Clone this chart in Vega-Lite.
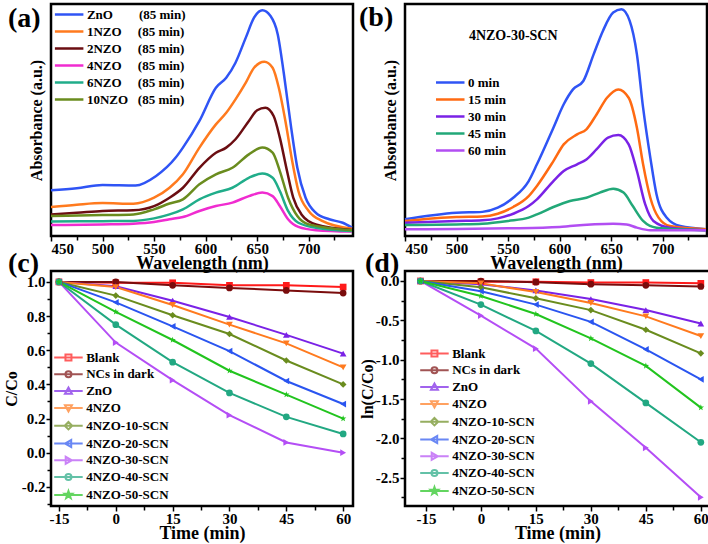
{
"$schema":"https://vega.github.io/schema/vega-lite/v6.json",
"padding":{"left":2,"top":1,"right":0,"bottom":0},
"config":{
 "font":"Liberation Serif",
 "view":{"stroke":"black","strokeWidth":2},
 "axis":{"labelFont":"Liberation Serif","labelFontSize":15,"labelFontWeight":"bold","labelColor":"#000","titleFont":"Liberation Serif","titleFontWeight":"bold","titleColor":"#000","tickColor":"#000","tickWidth":1.5,"tickSize":5,"domain":false,"grid":false,"labelPadding":0,"titlePadding":-2},
 "axisX":{"titleFontSize":18},
 "axisY":{"titleFontSize":16},
 "legend":{"labelFont":"Liberation Serif","labelFontSize":13,"labelFontWeight":"bold","labelColor":"#000","padding":0,"orient":"none","title":null,"symbolSize":100,"symbolStrokeWidth":2,"labelOffset":2,"rowPadding":3},
 "title":{"font":"Liberation Serif","fontSize":28,"fontWeight":"bold","color":"#000","anchor":"start","frame":"group","offset":0,"baseline":"alphabetic"}
},
"datasets":{
 "specA":[
  {"s":"ZnO","nm":450,"a":0.197},{"s":"ZnO","nm":475,"a":0.206},{"s":"ZnO","nm":500,"a":0.22},{"s":"ZnO","nm":532,"a":0.218},{"s":"ZnO","nm":552,"a":0.259},{"s":"ZnO","nm":571,"a":0.338},{"s":"ZnO","nm":578,"a":0.381},{"s":"ZnO","nm":594,"a":0.496},{"s":"ZnO","nm":610,"a":0.639},{"s":"ZnO","nm":620,"a":0.682},{"s":"ZnO","nm":629,"a":0.747},{"s":"ZnO","nm":639,"a":0.855},{"s":"ZnO","nm":647,"a":0.941},{"s":"ZnO","nm":655,"a":0.973},{"s":"ZnO","nm":663,"a":0.948},{"s":"ZnO","nm":670,"a":0.869},{"s":"ZnO","nm":676,"a":0.697},{"s":"ZnO","nm":683,"a":0.467},{"s":"ZnO","nm":689,"a":0.294},{"s":"ZnO","nm":697,"a":0.165},{"s":"ZnO","nm":707,"a":0.1},{"s":"ZnO","nm":720,"a":0.072},{"s":"ZnO","nm":733,"a":0.057},{"s":"ZnO","nm":742,"a":0.036},
  {"s":"1NZO","nm":450,"a":0.125},{"s":"1NZO","nm":475,"a":0.135},{"s":"1NZO","nm":500,"a":0.142},{"s":"1NZO","nm":530,"a":0.139},{"s":"1NZO","nm":550,"a":0.165},{"s":"1NZO","nm":565,"a":0.208},{"s":"1NZO","nm":578,"a":0.266},{"s":"1NZO","nm":594,"a":0.381},{"s":"1NZO","nm":610,"a":0.481},{"s":"1NZO","nm":620,"a":0.531},{"s":"1NZO","nm":629,"a":0.589},{"s":"1NZO","nm":639,"a":0.661},{"s":"1NZO","nm":647,"a":0.725},{"s":"1NZO","nm":657,"a":0.751},{"s":"1NZO","nm":665,"a":0.725},{"s":"1NZO","nm":671,"a":0.639},{"s":"1NZO","nm":678,"a":0.481},{"s":"1NZO","nm":684,"a":0.323},{"s":"1NZO","nm":690,"a":0.194},{"s":"1NZO","nm":700,"a":0.108},{"s":"1NZO","nm":713,"a":0.065},{"s":"1NZO","nm":742,"a":0.031},
  {"s":"2NZO","nm":450,"a":0.093},{"s":"2NZO","nm":475,"a":0.1},{"s":"2NZO","nm":500,"a":0.108},{"s":"2NZO","nm":530,"a":0.111},{"s":"2NZO","nm":550,"a":0.129},{"s":"2NZO","nm":565,"a":0.165},{"s":"2NZO","nm":578,"a":0.208},{"s":"2NZO","nm":594,"a":0.294},{"s":"2NZO","nm":610,"a":0.359},{"s":"2NZO","nm":620,"a":0.381},{"s":"2NZO","nm":629,"a":0.417},{"s":"2NZO","nm":642,"a":0.496},{"s":"2NZO","nm":650,"a":0.542},{"s":"2NZO","nm":658,"a":0.553},{"s":"2NZO","nm":666,"a":0.517},{"s":"2NZO","nm":672,"a":0.424},{"s":"2NZO","nm":679,"a":0.28},{"s":"2NZO","nm":685,"a":0.165},{"s":"2NZO","nm":693,"a":0.093},{"s":"2NZO","nm":707,"a":0.05},{"s":"2NZO","nm":742,"a":0.026},
  {"s":"4NZO","nm":450,"a":0.047},{"s":"4NZO","nm":500,"a":0.05},{"s":"4NZO","nm":530,"a":0.053},{"s":"4NZO","nm":550,"a":0.06},{"s":"4NZO","nm":565,"a":0.072},{"s":"4NZO","nm":578,"a":0.082},{"s":"4NZO","nm":594,"a":0.108},{"s":"4NZO","nm":610,"a":0.129},{"s":"4NZO","nm":626,"a":0.144},{"s":"4NZO","nm":642,"a":0.172},{"s":"4NZO","nm":655,"a":0.187},{"s":"4NZO","nm":665,"a":0.172},{"s":"4NZO","nm":672,"a":0.129},{"s":"4NZO","nm":680,"a":0.072},{"s":"4NZO","nm":690,"a":0.039},{"s":"4NZO","nm":707,"a":0.025},{"s":"4NZO","nm":742,"a":0.019},
  {"s":"6NZO","nm":450,"a":0.062},{"s":"6NZO","nm":500,"a":0.064},{"s":"6NZO","nm":530,"a":0.065},{"s":"6NZO","nm":550,"a":0.076},{"s":"6NZO","nm":565,"a":0.093},{"s":"6NZO","nm":578,"a":0.115},{"s":"6NZO","nm":594,"a":0.158},{"s":"6NZO","nm":610,"a":0.187},{"s":"6NZO","nm":626,"a":0.208},{"s":"6NZO","nm":642,"a":0.251},{"s":"6NZO","nm":655,"a":0.269},{"s":"6NZO","nm":665,"a":0.251},{"s":"6NZO","nm":672,"a":0.194},{"s":"6NZO","nm":680,"a":0.108},{"s":"6NZO","nm":690,"a":0.057},{"s":"6NZO","nm":707,"a":0.036},{"s":"6NZO","nm":742,"a":0.022},
  {"s":"10NZO","nm":450,"a":0.086},{"s":"10NZO","nm":500,"a":0.09},{"s":"10NZO","nm":530,"a":0.093},{"s":"10NZO","nm":550,"a":0.115},{"s":"10NZO","nm":565,"a":0.14},{"s":"10NZO","nm":578,"a":0.158},{"s":"10NZO","nm":594,"a":0.223},{"s":"10NZO","nm":610,"a":0.266},{"s":"10NZO","nm":626,"a":0.294},{"s":"10NZO","nm":642,"a":0.352},{"s":"10NZO","nm":655,"a":0.381},{"s":"10NZO","nm":665,"a":0.359},{"s":"10NZO","nm":672,"a":0.28},{"s":"10NZO","nm":680,"a":0.165},{"s":"10NZO","nm":689,"a":0.086},{"s":"10NZO","nm":700,"a":0.05},{"s":"10NZO","nm":742,"a":0.025}
 ],
 "specB":[
  {"s":"0 min","nm":450,"a":0.072},{"s":"0 min","nm":500,"a":0.1},{"s":"0 min","nm":525,"a":0.104},{"s":"0 min","nm":540,"a":0.122},{"s":"0 min","nm":555,"a":0.165},{"s":"0 min","nm":570,"a":0.237},{"s":"0 min","nm":578,"a":0.309},{"s":"0 min","nm":594,"a":0.467},{"s":"0 min","nm":604,"a":0.568},{"s":"0 min","nm":613,"a":0.632},{"s":"0 min","nm":623,"a":0.668},{"s":"0 min","nm":633,"a":0.783},{"s":"0 min","nm":642,"a":0.884},{"s":"0 min","nm":652,"a":0.963},{"s":"0 min","nm":660,"a":0.977},{"s":"0 min","nm":668,"a":0.927},{"s":"0 min","nm":675,"a":0.783},{"s":"0 min","nm":681,"a":0.553},{"s":"0 min","nm":688,"a":0.338},{"s":"0 min","nm":694,"a":0.18},{"s":"0 min","nm":704,"a":0.079},{"s":"0 min","nm":717,"a":0.043},{"s":"0 min","nm":742,"a":0.029},
  {"s":"15 min","nm":450,"a":0.065},{"s":"15 min","nm":500,"a":0.082},{"s":"15 min","nm":525,"a":0.084},{"s":"15 min","nm":540,"a":0.096},{"s":"15 min","nm":555,"a":0.125},{"s":"15 min","nm":570,"a":0.172},{"s":"15 min","nm":578,"a":0.216},{"s":"15 min","nm":594,"a":0.323},{"s":"15 min","nm":604,"a":0.395},{"s":"15 min","nm":617,"a":0.438},{"s":"15 min","nm":626,"a":0.46},{"s":"15 min","nm":636,"a":0.525},{"s":"15 min","nm":646,"a":0.596},{"s":"15 min","nm":657,"a":0.632},{"s":"15 min","nm":667,"a":0.596},{"s":"15 min","nm":675,"a":0.467},{"s":"15 min","nm":681,"a":0.309},{"s":"15 min","nm":688,"a":0.165},{"s":"15 min","nm":696,"a":0.079},{"s":"15 min","nm":707,"a":0.043},{"s":"15 min","nm":742,"a":0.029},
  {"s":"30 min","nm":450,"a":0.057},{"s":"30 min","nm":500,"a":0.065},{"s":"30 min","nm":525,"a":0.068},{"s":"30 min","nm":540,"a":0.076},{"s":"30 min","nm":555,"a":0.096},{"s":"30 min","nm":570,"a":0.129},{"s":"30 min","nm":578,"a":0.158},{"s":"30 min","nm":594,"a":0.237},{"s":"30 min","nm":604,"a":0.28},{"s":"30 min","nm":617,"a":0.309},{"s":"30 min","nm":626,"a":0.33},{"s":"30 min","nm":636,"a":0.374},{"s":"30 min","nm":647,"a":0.424},{"s":"30 min","nm":657,"a":0.435},{"s":"30 min","nm":667,"a":0.395},{"s":"30 min","nm":675,"a":0.28},{"s":"30 min","nm":683,"a":0.137},{"s":"30 min","nm":691,"a":0.065},{"s":"30 min","nm":707,"a":0.036},{"s":"30 min","nm":742,"a":0.025},
  {"s":"45 min","nm":450,"a":0.047},{"s":"45 min","nm":500,"a":0.05},{"s":"45 min","nm":525,"a":0.053},{"s":"45 min","nm":550,"a":0.065},{"s":"45 min","nm":570,"a":0.079},{"s":"45 min","nm":578,"a":0.093},{"s":"45 min","nm":594,"a":0.125},{"s":"45 min","nm":610,"a":0.151},{"s":"45 min","nm":626,"a":0.165},{"s":"45 min","nm":639,"a":0.187},{"s":"45 min","nm":652,"a":0.204},{"s":"45 min","nm":662,"a":0.187},{"s":"45 min","nm":671,"a":0.129},{"s":"45 min","nm":681,"a":0.065},{"s":"45 min","nm":694,"a":0.036},{"s":"45 min","nm":742,"a":0.025},
  {"s":"60 min","nm":450,"a":0.029},{"s":"60 min","nm":500,"a":0.03},{"s":"60 min","nm":550,"a":0.033},{"s":"60 min","nm":600,"a":0.039},{"s":"60 min","nm":610,"a":0.043},{"s":"60 min","nm":652,"a":0.053},{"s":"60 min","nm":665,"a":0.05},{"s":"60 min","nm":675,"a":0.036},{"s":"60 min","nm":688,"a":0.025},{"s":"60 min","nm":742,"a":0.025}
 ],
 "kinC":[
  {"s":"Blank","t":-15,"v":1.0},{"s":"Blank","t":0,"v":0.995},{"s":"Blank","t":15,"v":0.995},{"s":"Blank","t":30,"v":0.98},{"s":"Blank","t":45,"v":0.98},{"s":"Blank","t":60,"v":0.97},
  {"s":"NCs in dark","t":-15,"v":1.0},{"s":"NCs in dark","t":0,"v":1.0},{"s":"NCs in dark","t":15,"v":0.98},{"s":"NCs in dark","t":30,"v":0.965},{"s":"NCs in dark","t":45,"v":0.95},{"s":"NCs in dark","t":60,"v":0.935},
  {"s":"ZnO","t":-15,"v":1.0},{"s":"ZnO","t":0,"v":0.975},{"s":"ZnO","t":15,"v":0.89},{"s":"ZnO","t":30,"v":0.795},{"s":"ZnO","t":45,"v":0.69},{"s":"ZnO","t":60,"v":0.58},
  {"s":"4NZO","t":-15,"v":1.0},{"s":"4NZO","t":0,"v":0.97},{"s":"4NZO","t":15,"v":0.865},{"s":"4NZO","t":30,"v":0.75},{"s":"4NZO","t":45,"v":0.64},{"s":"4NZO","t":60,"v":0.5},
  {"s":"4NZO-10-SCN","t":-15,"v":1.0},{"s":"4NZO-10-SCN","t":0,"v":0.92},{"s":"4NZO-10-SCN","t":15,"v":0.805},{"s":"4NZO-10-SCN","t":30,"v":0.695},{"s":"4NZO-10-SCN","t":45,"v":0.54},{"s":"4NZO-10-SCN","t":60,"v":0.4},
  {"s":"4NZO-20-SCN","t":-15,"v":1.0},{"s":"4NZO-20-SCN","t":0,"v":0.88},{"s":"4NZO-20-SCN","t":15,"v":0.74},{"s":"4NZO-20-SCN","t":30,"v":0.595},{"s":"4NZO-20-SCN","t":45,"v":0.42},{"s":"4NZO-20-SCN","t":60,"v":0.285},
  {"s":"4NZO-30-SCN","t":-15,"v":1.0},{"s":"4NZO-30-SCN","t":0,"v":0.645},{"s":"4NZO-30-SCN","t":15,"v":0.425},{"s":"4NZO-30-SCN","t":30,"v":0.22},{"s":"4NZO-30-SCN","t":45,"v":0.06},{"s":"4NZO-30-SCN","t":60,"v":0.0},
  {"s":"4NZO-40-SCN","t":-15,"v":1.0},{"s":"4NZO-40-SCN","t":0,"v":0.75},{"s":"4NZO-40-SCN","t":15,"v":0.53},{"s":"4NZO-40-SCN","t":30,"v":0.35},{"s":"4NZO-40-SCN","t":45,"v":0.21},{"s":"4NZO-40-SCN","t":60,"v":0.11},
  {"s":"4NZO-50-SCN","t":-15,"v":1.0},{"s":"4NZO-50-SCN","t":0,"v":0.825},{"s":"4NZO-50-SCN","t":15,"v":0.66},{"s":"4NZO-50-SCN","t":30,"v":0.48},{"s":"4NZO-50-SCN","t":45,"v":0.34},{"s":"4NZO-50-SCN","t":60,"v":0.2}
 ],
 "kinD":[
  {"s":"Blank","t":-16.5,"v":0},{"s":"Blank","t":0,"v":-0.01},{"s":"Blank","t":15,"v":-0.01},{"s":"Blank","t":30,"v":-0.02},{"s":"Blank","t":45,"v":-0.02},{"s":"Blank","t":60,"v":-0.03},
  {"s":"NCs in dark","t":-16.5,"v":0},{"s":"NCs in dark","t":0,"v":0},{"s":"NCs in dark","t":15,"v":-0.015},{"s":"NCs in dark","t":30,"v":-0.04},{"s":"NCs in dark","t":45,"v":-0.055},{"s":"NCs in dark","t":60,"v":-0.07},
  {"s":"ZnO","t":-16.5,"v":0},{"s":"ZnO","t":0,"v":-0.04},{"s":"ZnO","t":15,"v":-0.12},{"s":"ZnO","t":30,"v":-0.23},{"s":"ZnO","t":45,"v":-0.37},{"s":"ZnO","t":60,"v":-0.54},
  {"s":"4NZO","t":-16.5,"v":0},{"s":"4NZO","t":0,"v":-0.03},{"s":"4NZO","t":15,"v":-0.14},{"s":"4NZO","t":30,"v":-0.28},{"s":"4NZO","t":45,"v":-0.45},{"s":"4NZO","t":60,"v":-0.7},
  {"s":"4NZO-10-SCN","t":-16.5,"v":0},{"s":"4NZO-10-SCN","t":0,"v":-0.08},{"s":"4NZO-10-SCN","t":15,"v":-0.22},{"s":"4NZO-10-SCN","t":30,"v":-0.37},{"s":"4NZO-10-SCN","t":45,"v":-0.62},{"s":"4NZO-10-SCN","t":60,"v":-0.92},
  {"s":"4NZO-20-SCN","t":-16.5,"v":0},{"s":"4NZO-20-SCN","t":0,"v":-0.13},{"s":"4NZO-20-SCN","t":15,"v":-0.3},{"s":"4NZO-20-SCN","t":30,"v":-0.52},{"s":"4NZO-20-SCN","t":45,"v":-0.87},{"s":"4NZO-20-SCN","t":60,"v":-1.25},
  {"s":"4NZO-30-SCN","t":-16.5,"v":0},{"s":"4NZO-30-SCN","t":0,"v":-0.44},{"s":"4NZO-30-SCN","t":15,"v":-0.86},{"s":"4NZO-30-SCN","t":30,"v":-1.53},{"s":"4NZO-30-SCN","t":45,"v":-2.12},{"s":"4NZO-30-SCN","t":60,"v":-2.75},
  {"s":"4NZO-40-SCN","t":-16.5,"v":0},{"s":"4NZO-40-SCN","t":0,"v":-0.3},{"s":"4NZO-40-SCN","t":15,"v":-0.635},{"s":"4NZO-40-SCN","t":30,"v":-1.05},{"s":"4NZO-40-SCN","t":45,"v":-1.55},{"s":"4NZO-40-SCN","t":60,"v":-2.05},
  {"s":"4NZO-50-SCN","t":-16.5,"v":0},{"s":"4NZO-50-SCN","t":0,"v":-0.19},{"s":"4NZO-50-SCN","t":15,"v":-0.42},{"s":"4NZO-50-SCN","t":30,"v":-0.73},{"s":"4NZO-50-SCN","t":45,"v":-1.08},{"s":"4NZO-50-SCN","t":60,"v":-1.61}
 ]
},
"columns":2,
"bounds":"flush",
"spacing":{"row":35,"column":52},
"resolve":{"scale":{"color":"independent","shape":"independent","x":"independent","y":"independent"},"legend":{"color":"independent","shape":"independent"}},
"concat":[
 {
  "width":302,"height":232,
  "title":{"text":"(a)","dx":-43,"dy":34},
  "layer":[
   {"data":{"values":[{}]},"mark":{"type":"rect","filled":false,"stroke":"black","strokeWidth":2.5,"opacity":1},
    "encoding":{"x":{"datum":450,"type":"quantitative","axis":null},"x2":{"datum":743},"y":{"datum":0,"type":"quantitative","axis":null},"y2":{"datum":1}}},
   {"data":{"name":"specA"},"mark":{"type":"line","strokeWidth":2.5,"interpolate":"monotone"},
    "encoding":{
     "x":{"field":"nm","type":"quantitative","scale":{"domain":[450,743],"nice":false,"zero":false},"axis":{"values":[450,500,550,600,650,700],"title":"Wavelength (nm)"}},
     "y":{"field":"a","type":"quantitative","scale":{"domain":[0,1],"nice":false},"axis":{"labels":false,"ticks":false,"title":"Absorbance (a.u.)","titlePadding":7}},
     "color":{"field":"s","type":"nominal","scale":{"domain":["ZnO","1NZO","2NZO","4NZO","6NZO","10NZO"],"range":["#2f54f5","#ff7a1e","#6b0e12","#f02cd0","#20ad8a","#6a8c1e"]},
      "legend":{"legendX":20.9,"legendY":4,"symbolType":"M-4.7,0H1","symbolStrokeWidth":2.5,
       "labelExpr":"datum.label == 'ZnO' ? 'ZnO\u00a0\u00a0\u00a0\u00a0\u00a0\u00a0\u00a0\u00a0(85 min)' : datum.label == '10NZO' ? '10NZO\u00a0\u00a0\u00a0(85 min)' : datum.label + '\u00a0\u00a0\u00a0\u00a0\u00a0(85 min)'"}}
    }},
   {"data":{"name":"specA"},"mark":{"type":"point","opacity":0},
    "encoding":{"x":{"field":"nm","type":"quantitative","scale":{"domain":[450,743],"nice":false,"zero":false},"axis":{"orient":"bottom","values":[475,525,575,625,675,725],"labels":false,"title":null,"tickSize":4}}}}
  ],
  "resolve":{"axis":{"x":"independent","y":"independent"}}
 },
 {
  "width":302,"height":232,
  "title":{"text":"(b)","dx":-46,"dy":33},
  "layer":[
   {"data":{"values":[{}]},"mark":{"type":"rect","filled":false,"stroke":"black","strokeWidth":2.5,"opacity":1},
    "encoding":{"x":{"datum":450,"type":"quantitative","axis":null},"x2":{"datum":743},"y":{"datum":0,"type":"quantitative","axis":null},"y2":{"datum":1}}},
   {"data":{"name":"specB"},"mark":{"type":"line","strokeWidth":2.5,"interpolate":"monotone"},
    "encoding":{
     "x":{"field":"nm","type":"quantitative","scale":{"domain":[450,743],"nice":false,"zero":false},"axis":{"values":[450,500,550,600,650,700],"title":"Wavelength (nm)"}},
     "y":{"field":"a","type":"quantitative","scale":{"domain":[0,1],"nice":false},"axis":{"labels":false,"ticks":false,"title":"Absorbance (a.u.)","titlePadding":7}},
     "color":{"field":"s","type":"nominal","scale":{"domain":["0 min","15 min","30 min","45 min","60 min"],"range":["#2f54f5","#ff6a12","#7a22e6","#22a878","#b24ef2"]},
      "legend":{"legendX":48,"legendY":72,"symbolType":"M-4.7,0H1","symbolStrokeWidth":2.5}}
    }},
   {"data":{"values":[{}]},"mark":{"type":"text","font":"Liberation Serif","fontSize":14,"fontWeight":"bold","color":"#000"},
    "encoding":{"x":{"datum":555,"type":"quantitative","axis":null},"y":{"datum":0.863,"type":"quantitative","axis":null},"text":{"value":"4NZO-30-SCN"}}},
   {"data":{"name":"specB"},"mark":{"type":"point","opacity":0},
    "encoding":{"x":{"field":"nm","type":"quantitative","scale":{"domain":[450,743],"nice":false,"zero":false},"axis":{"orient":"bottom","values":[475,525,575,625,675,725],"labels":false,"title":null,"tickSize":4}}}}
  ],
  "resolve":{"axis":{"x":"independent","y":"independent"}}
 },
 {
  "width":302,"height":235,
  "title":{"text":"(c)","dx":-43,"dy":12},
  "layer":[
   {"data":{"values":[{}]},"mark":{"type":"rect","filled":false,"stroke":"black","strokeWidth":2.5,"opacity":1},
    "encoding":{"x":{"datum":-17.1,"type":"quantitative","axis":null},"x2":{"datum":62.6},"y":{"datum":-0.312,"type":"quantitative","axis":null},"y2":{"datum":1.064}}},
   {"data":{"name":"kinC"},"mark":{"type":"line","strokeWidth":2},
    "encoding":{
     "x":{"field":"t","type":"quantitative","scale":{"domain":[-17.1,62.6],"nice":false,"zero":false},"axis":{"values":[-15,0,15,30,45,60],"title":"Time (min)","labelExpr":"replace(datum.label,'\u2212','-')"}},
     "y":{"field":"v","type":"quantitative","scale":{"domain":[-0.312,1.064],"nice":false,"zero":false},"axis":{"values":[-0.2,0,0.2,0.4,0.6,0.8,1.0],"format":".1f","labelExpr":"replace(datum.label,'\u2212','-')","title":"C/Co","titlePadding":2,"labelPadding":1}},
     "color":{"field":"s","type":"nominal","scale":{"domain":["Blank","NCs in dark","ZnO","4NZO","4NZO-10-SCN","4NZO-20-SCN","4NZO-30-SCN","4NZO-40-SCN","4NZO-50-SCN"],"range":["#ff1a1a","#7a0c0c","#7a22e6","#ff7a1e","#6a8c1e","#2a55f0","#b44ef5","#22a882","#22c41e"]},"legend":null}
    }},
   {"data":{"name":"kinC"},"mark":{"type":"point","filled":true,"opacity":1,"size":45},
    "encoding":{
     "x":{"field":"t","type":"quantitative","axis":null},
     "y":{"field":"v","type":"quantitative","axis":null},
     "color":{"field":"s","type":"nominal","scale":{"domain":["Blank","NCs in dark","ZnO","4NZO","4NZO-10-SCN","4NZO-20-SCN","4NZO-30-SCN","4NZO-40-SCN","4NZO-50-SCN"],"range":["#ff1a1a","#7a0c0c","#7a22e6","#ff7a1e","#6a8c1e","#2a55f0","#b44ef5","#22a882","#22c41e"]},"legend":null},
     "shape":{"field":"s","type":"nominal","scale":{"domain":["Blank","NCs in dark","ZnO","4NZO","4NZO-10-SCN","4NZO-20-SCN","4NZO-30-SCN","4NZO-40-SCN","4NZO-50-SCN"],"range":["square","circle","triangle-up","triangle-down","diamond","triangle-left","triangle-right","circle","M0,-1L0.235,-0.324L0.951,-0.309L0.38,0.124L0.588,0.809L0,0.4L-0.588,0.809L-0.38,0.124L-0.951,-0.309L-0.235,-0.324Z"]},"legend":null}
    }},
   {"data":{"name":"kinC"},"transform":[{"filter":"false"}],"mark":{"type":"point","filled":false,"size":100,"strokeWidth":2},
    "encoding":{
     "x":{"field":"t","type":"quantitative","axis":null},
     "y":{"field":"v","type":"quantitative","axis":null},
     "color":{"field":"s","type":"nominal","scale":{"domain":["Blank","NCs in dark","ZnO","4NZO","4NZO-10-SCN","4NZO-20-SCN","4NZO-30-SCN","4NZO-40-SCN","4NZO-50-SCN"],"range":["#ff1a1a","#7a0c0c","#7a22e6","#ff7a1e","#6a8c1e","#2a55f0","#b44ef5","#22a882","#22c41e"]},"legend":{"legendX":20.2,"legendY":80,"rowPadding":1.8}},
     "shape":{"field":"s","type":"nominal","scale":{"domain":["Blank","NCs in dark","ZnO","4NZO","4NZO-10-SCN","4NZO-20-SCN","4NZO-30-SCN","4NZO-40-SCN","4NZO-50-SCN"],"range":["M-4.7,0H1M-2.45,-0.6H-1.25V0.6H-2.45Z","M-4.7,0H1M-1.25,0A0.6,0.6 0 1,1 -2.45,0A0.6,0.6 0 1,1 -1.25,0Z","M-4.7,0H1M-1.85,-0.7L-1.15,0.55L-2.55,0.55Z","M-4.7,0H1M-1.85,0.7L-1.15,-0.55L-2.55,-0.55Z","M-4.7,0H1M-1.85,-0.75L-1.1,0L-1.85,0.75L-2.6,0Z","M-4.7,0H1M-2.55,0L-1.3,-0.7L-1.3,0.7Z","M-4.7,0H1M-1.15,0L-2.4,-0.7L-2.4,0.7Z","M-4.7,0H1M-1.25,0A0.6,0.6 0 1,1 -2.45,0A0.6,0.6 0 1,1 -1.25,0Z","M-4.7,0H1M-1.85,-0.75L-1.674,-0.243L-1.137,-0.232L-1.565,0.093L-1.409,0.607L-1.85,0.3L-2.291,0.607L-2.135,0.093L-2.563,-0.232L-2.026,-0.243Z"]},"legend":{"legendX":20.2,"legendY":80,"rowPadding":1.8}}
    }},
   {"data":{"name":"kinC"},"mark":{"type":"point","opacity":0},
    "encoding":{
     "x":{"field":"t","type":"quantitative","axis":{"orient":"bottom","values":[-7.5,7.5,22.5,37.5,52.5],"labels":false,"title":null,"tickSize":4}},
     "y":{"field":"v","type":"quantitative","axis":{"orient":"left","values":[-0.3,-0.1,0.1,0.3,0.5,0.7,0.9],"labels":false,"title":null,"tickSize":4}}}}
  ],
  "resolve":{"scale":{"color":"independent","shape":"independent"},"axis":{"x":"independent","y":"independent"}}
 },
 {
  "width":305,"height":235,
  "title":{"text":"(d)","dx":-40,"dy":12},
  "layer":[
   {"data":{"values":[{}]},"mark":{"type":"rect","filled":false,"stroke":"black","strokeWidth":2.5,"opacity":1},
    "encoding":{"x":{"datum":-20.7,"type":"quantitative","axis":null},"x2":{"datum":62.5},"y":{"datum":-2.86,"type":"quantitative","axis":null},"y2":{"datum":0.127}}},
   {"data":{"name":"kinD"},"mark":{"type":"line","strokeWidth":2},
    "encoding":{
     "x":{"field":"t","type":"quantitative","scale":{"domain":[-20.7,62.5],"nice":false,"zero":false},"axis":{"values":[-15,0,15,30,45,60],"title":"Time (min)","labelExpr":"replace(datum.label,'\u2212','-')"}},
     "y":{"field":"v","type":"quantitative","scale":{"domain":[-2.86,0.127],"nice":false,"zero":false},"axis":{"values":[-2.5,-2,-1.5,-1,-0.5,0],"format":".1f","labelExpr":"replace(datum.label,'\u2212','-')","title":"ln(C/Co)","titlePadding":0,"labelPadding":1}},
     "color":{"field":"s","type":"nominal","scale":{"domain":["Blank","NCs in dark","ZnO","4NZO","4NZO-10-SCN","4NZO-20-SCN","4NZO-30-SCN","4NZO-40-SCN","4NZO-50-SCN"],"range":["#ff1a1a","#7a0c0c","#7a22e6","#ff7a1e","#6a8c1e","#2a55f0","#b44ef5","#22a882","#22c41e"]},"legend":null}
    }},
   {"data":{"name":"kinD"},"mark":{"type":"point","filled":true,"opacity":1,"size":45},
    "encoding":{
     "x":{"field":"t","type":"quantitative","axis":null},
     "y":{"field":"v","type":"quantitative","axis":null},
     "color":{"field":"s","type":"nominal","scale":{"domain":["Blank","NCs in dark","ZnO","4NZO","4NZO-10-SCN","4NZO-20-SCN","4NZO-30-SCN","4NZO-40-SCN","4NZO-50-SCN"],"range":["#ff1a1a","#7a0c0c","#7a22e6","#ff7a1e","#6a8c1e","#2a55f0","#b44ef5","#22a882","#22c41e"]},"legend":null},
     "shape":{"field":"s","type":"nominal","scale":{"domain":["Blank","NCs in dark","ZnO","4NZO","4NZO-10-SCN","4NZO-20-SCN","4NZO-30-SCN","4NZO-40-SCN","4NZO-50-SCN"],"range":["square","circle","triangle-up","triangle-down","diamond","triangle-left","triangle-right","circle","M0,-1L0.235,-0.324L0.951,-0.309L0.38,0.124L0.588,0.809L0,0.4L-0.588,0.809L-0.38,0.124L-0.951,-0.309L-0.235,-0.324Z"]},"legend":null}
    }},
   {"data":{"name":"kinD"},"transform":[{"filter":"false"}],"mark":{"type":"point","filled":false,"size":100,"strokeWidth":2},
    "encoding":{
     "x":{"field":"t","type":"quantitative","axis":null},
     "y":{"field":"v","type":"quantitative","axis":null},
     "color":{"field":"s","type":"nominal","scale":{"domain":["Blank","NCs in dark","ZnO","4NZO","4NZO-10-SCN","4NZO-20-SCN","4NZO-30-SCN","4NZO-40-SCN","4NZO-50-SCN"],"range":["#ff1a1a","#7a0c0c","#7a22e6","#ff7a1e","#6a8c1e","#2a55f0","#b44ef5","#22a882","#22c41e"]},"legend":{"legendX":32.2,"legendY":76,"rowPadding":1.8}},
     "shape":{"field":"s","type":"nominal","scale":{"domain":["Blank","NCs in dark","ZnO","4NZO","4NZO-10-SCN","4NZO-20-SCN","4NZO-30-SCN","4NZO-40-SCN","4NZO-50-SCN"],"range":["M-4.7,0H1M-2.45,-0.6H-1.25V0.6H-2.45Z","M-4.7,0H1M-1.25,0A0.6,0.6 0 1,1 -2.45,0A0.6,0.6 0 1,1 -1.25,0Z","M-4.7,0H1M-1.85,-0.7L-1.15,0.55L-2.55,0.55Z","M-4.7,0H1M-1.85,0.7L-1.15,-0.55L-2.55,-0.55Z","M-4.7,0H1M-1.85,-0.75L-1.1,0L-1.85,0.75L-2.6,0Z","M-4.7,0H1M-2.55,0L-1.3,-0.7L-1.3,0.7Z","M-4.7,0H1M-1.15,0L-2.4,-0.7L-2.4,0.7Z","M-4.7,0H1M-1.25,0A0.6,0.6 0 1,1 -2.45,0A0.6,0.6 0 1,1 -1.25,0Z","M-4.7,0H1M-1.85,-0.75L-1.674,-0.243L-1.137,-0.232L-1.565,0.093L-1.409,0.607L-1.85,0.3L-2.291,0.607L-2.135,0.093L-2.563,-0.232L-2.026,-0.243Z"]},"legend":{"legendX":32.2,"legendY":76,"rowPadding":1.8}}
    }},
   {"data":{"name":"kinD"},"mark":{"type":"point","opacity":0},
    "encoding":{
     "x":{"field":"t","type":"quantitative","axis":{"orient":"bottom","values":[-7.5,7.5,22.5,37.5,52.5],"labels":false,"title":null,"tickSize":4}},
     "y":{"field":"v","type":"quantitative","axis":{"orient":"left","values":[-2.75,-2.25,-1.75,-1.25,-0.75,-0.25],"labels":false,"title":null,"tickSize":4}}}}
  ],
  "resolve":{"scale":{"color":"independent","shape":"independent"},"axis":{"x":"independent","y":"independent"}}
 }
]
}
